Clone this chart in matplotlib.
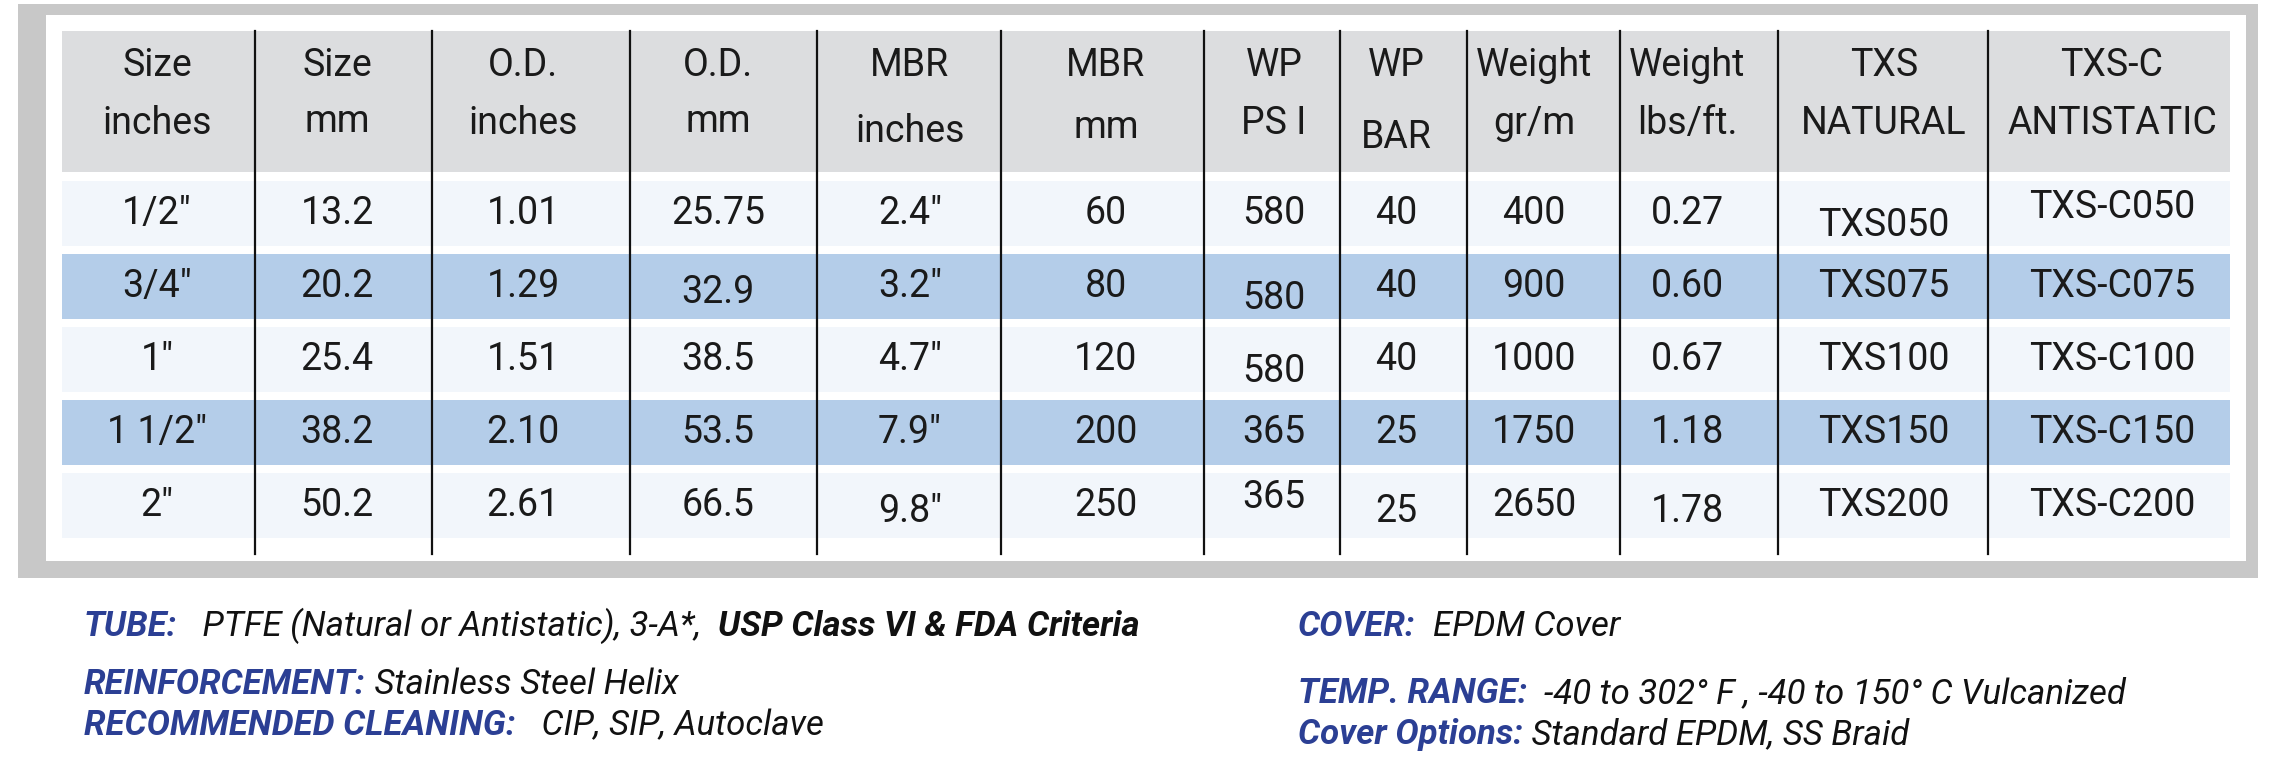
import matplotlib
matplotlib.use("Agg")
import matplotlib.pyplot as plt
from matplotlib.patches import Rectangle
from matplotlib import font_manager

# table data
headers = [("Size", "inches"), ("Size", "mm"), ("O.D.", "inches"), ("O.D.", "mm"),
           ("MBR", "inches"), ("MBR", "mm"), ("WP", "PS I"), ("WP", "BAR"),
           ("Weight", "gr/m"), ("Weight", "lbs/ft."), ("TXS", "NATURAL"), ("TXS-C", "ANTISTATIC")]
size_in = ["1/2\u2033", "3/4\u2033", "1\u2033", "1 1/2\u2033", "2\u2033"]
size_mm = ["13.2", "20.2", "25.4", "38.2", "50.2"]
od_in = ["1.01", "1.29", "1.51", "2.10", "2.61"]
od_mm = ["25.75", "32.9", "38.5", "53.5", "66.5"]
mbr_in = ['2.4"', '3.2"', '4.7"', '7.9"', '9.8"']
mbr_mm = ["60", "80", "120", "200", "250"]
wp_psi = ["580", "580", "580", "365", "365"]
wp_bar = ["40", "40", "40", "25", "25"]
wt_grm = ["400", "900", "1000", "1750", "2650"]
wt_lbs = ["0.27", "0.60", "0.67", "1.18", "1.78"]
txs = ["TXS050", "TXS075", "TXS100", "TXS150", "TXS200"]
txs_c = ["TXS-C050", "TXS-C075", "TXS-C100", "TXS-C150", "TXS-C200"]
columns = [size_in, size_mm, od_in, od_mm, mbr_in, mbr_mm, wp_psi, wp_bar, wt_grm, wt_lbs, txs, txs_c]

notes_left = [
    [("TUBE:", "lab"), ("   PTFE (Natural or Antistatic), 3-A*,  ", "val"), ("USP Class VI & FDA Criteria", "bold")],
    [("REINFORCEMENT:", "lab"), (" Stainless Steel Helix", "val")],
    [("RECOMMENDED CLEANING:", "lab"), ("   CIP, SIP, Autoclave", "val")],
]
notes_right = [
    [("COVER:", "lab"), ("  EPDM Cover", "val")],
    [("TEMP. RANGE:", "lab"), ("  -40 to 302\u00b0 F , -40 to 150\u00b0 C Vulcanized", "val")],
    [("Cover Options:", "lab"), (" Standard EPDM, SS Braid", "val")],
]

# layout (pixels)
col_x = [157, 337, 523, 718, 910, 1106, 1274, 1396, 1534, 1687, 1884, 2112]
line_x = [255, 432, 630, 817, 1001, 1204, 1340, 1467, 1620, 1778, 1988]
row_top = [181, 254, 327, 400, 473]
row_h = 65
row_colors = ["#f2f6fb", "#b4cde9"]
# small vertical nudges seen in the original (row, col): dy
nudge = {(0, 10): 12, (0, 11): -6, (1, 3): 6, (1, 6): 12, (2, 6): 12,
         (4, 6): -8, (4, 4): 6, (4, 7): 6, (4, 9): 6}
head_nudge = {4: 8, 7: 14, 5: 4, 1: -2, 3: -2}

avail = {f.name for f in font_manager.fontManager.ttflist}
fam = [f for f in ["Liberation Sans Narrow", "Roboto", "DejaVu Sans"] if f in avail]
plt.rcParams["font.family"] = fam

W, H = 2276, 760
fig = plt.figure(figsize=(W / 100, H / 100), dpi=100)
ax = fig.add_axes([0, 0, 1, 1])
ax.set_xlim(0, W)
ax.set_ylim(H, 0)
ax.axis("off")

ax.add_patch(Rectangle((18, 4), 2240, 574, color="#c8c8c8", lw=0))
ax.add_patch(Rectangle((46, 15), 2200, 546, color="white", lw=0))
ax.add_patch(Rectangle((62, 31), 2168, 141, color="#dcdddf", lw=0))
for i, top in enumerate(row_top):
    ax.add_patch(Rectangle((62, top), 2168, row_h, color=row_colors[i % 2], lw=0))
for x in line_x:
    ax.plot([x, x], [31, 554], color="#111111", lw=1.6)

fs = 27
for j, (h1, h2) in enumerate(headers):
    ax.text(col_x[j], 66, h1, ha="center", va="center", fontsize=fs, color="#1a1a1a")
    ax.text(col_x[j], 123 + head_nudge.get(j, 0), h2, ha="center", va="center", fontsize=fs, color="#1a1a1a")
for j, col in enumerate(columns):
    for i, v in enumerate(col):
        y = row_top[i] + row_h / 2 + nudge.get((i, j), 0)
        ax.text(col_x[j], y, v, ha="center", va="center", fontsize=fs, color="#1a1a1a")

# notes below the table, runs placed one after another
fig.canvas.draw()
r = fig.canvas.get_renderer()
styles = {"lab": dict(color="#2b3f94", weight="bold", style="italic"),
          "val": dict(color="#111111", style="italic"),
          "bold": dict(color="#111111", weight="bold", style="italic")}
nfs = 25


def draw_line(x, y, runs):
    for txt, st in runs:
        t = ax.text(x, y, txt, ha="left", va="baseline", fontsize=nfs, **styles[st])
        bb = t.get_window_extent(renderer=r)
        x += bb.width


left_y = [636, 694, 735]
right_y = [636, 703, 744]
for y, runs in zip(left_y, notes_left):
    draw_line(84, y, runs)
for y, runs in zip(right_y, notes_right):
    draw_line(1298, y, runs)

fig.savefig("out.png", dpi=100)
